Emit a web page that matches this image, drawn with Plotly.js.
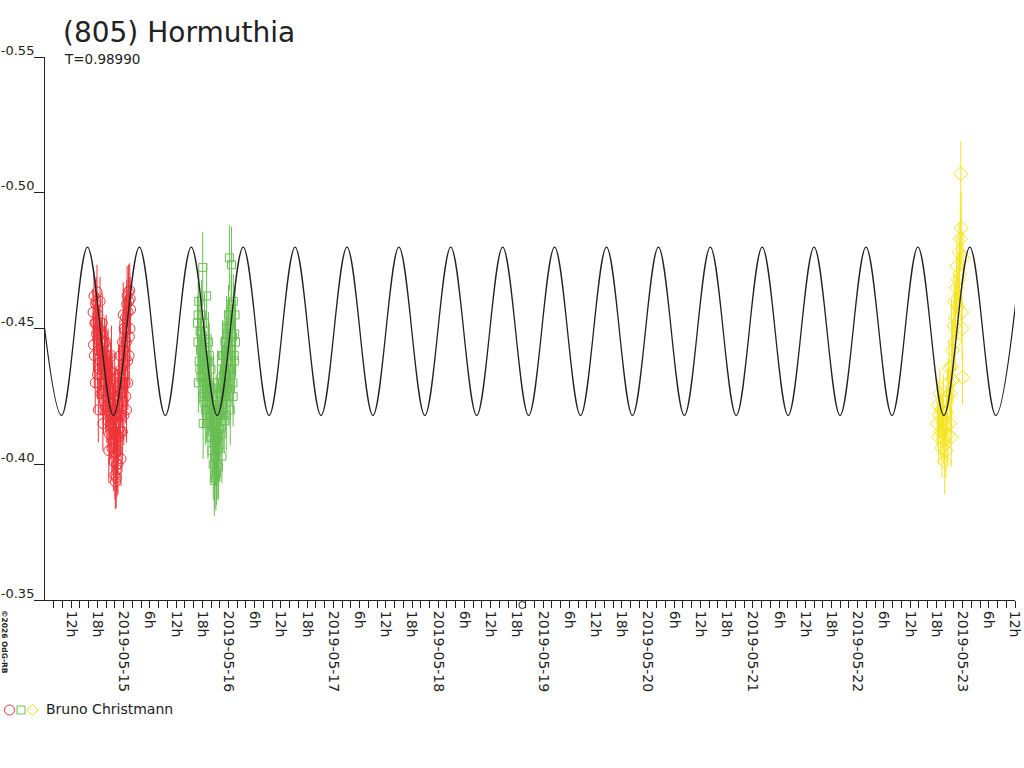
<!DOCTYPE html>
<html><head><meta charset="utf-8">
<script src="https://cdn.plot.ly/plotly-3.0.1.min.js"></script>
<style>html,body{margin:0;padding:0;background:#fff}#chart{width:1024px;height:768px}</style>
</head><body><div id="chart"></div>
<script>
// Times are hours after 2019-05-14 00:00 UT
const titleText = '(805) Hormuthia';
const subtitleText = 'T=0.98990';
const observerName = 'Bruno Christmann';
const creditText = '\u00a92026 OdG-RB';

const yTickVals = [-0.55, -0.50, -0.45, -0.40, -0.35];
const yTickText = ['-0.55', '-0.50', '-0.45', '-0.40', '-0.35'];
const xRangeHours = [6, 228];
const epochMarkHours = 115.25;

// model curve extrema (hours, mag)
const curveHours = [3.839, 9.778, 15.717, 21.657, 27.596, 33.536, 39.475, 45.414, 51.354, 57.293, 63.232,
  69.172, 75.111, 81.051, 86.990, 92.930, 98.869, 104.808, 110.748, 116.687, 122.626, 128.566, 134.505,
  140.445, 146.384, 152.324, 158.263, 164.202, 170.142, 176.081, 182.020, 187.960, 193.899, 199.839,
  205.778, 211.718, 217.657, 223.596, 229.536];
const curveMags = [-0.480, -0.418, -0.480, -0.418, -0.480, -0.418, -0.480, -0.418, -0.480, -0.418, -0.480,
  -0.418, -0.480, -0.418, -0.480, -0.418, -0.480, -0.418, -0.480, -0.418, -0.480, -0.418, -0.480,
  -0.418, -0.480, -0.418, -0.480, -0.418, -0.480, -0.418, -0.480, -0.418, -0.480, -0.418,
  -0.480, -0.418, -0.480, -0.418, -0.480];

// session 1 (red circles)
const redHours = [17.0,17.2,17.4,17.6,17.8,17.9,18.0,18.1,18.3,18.4,18.6,18.7,18.8,18.9,19.0,19.2,19.3,19.4,19.5,19.6,19.8,19.9,
  20.1,20.2,20.4,20.5,20.7,20.8,21.0,21.1,21.3,21.4,21.6,21.7,21.9,22.0,22.1,22.2,22.3,22.4,22.6,22.7,22.9,
  23.0,23.2,23.3,23.5,23.6,23.8,23.9,24.0,24.2,24.3,24.4,24.6,24.7,24.8,25.0,25.1,25.2,25.4,25.5,25.6,
  17.1,17.5,17.7,18.2,18.5,19.1,19.7,20.0,20.3,20.6,20.9,21.2,21.5,21.8,22.05,22.25,22.5,22.8,23.1,23.4,23.7,24.1,24.5,24.9,25.3,19.25,21.0,23.9,
  17.3,17.65,18.05,18.45,18.85,19.15,19.55,19.85,20.15,20.45,20.75,21.05,21.35,21.65,21.95,22.15,22.35,22.55,22.85,23.15,23.45,23.75,24.05,24.35,24.65,24.95,25.25,25.45];
const redMags = [-0.4560,-0.4620,-0.4520,-0.4590,-0.4480,-0.4635,-0.4330,-0.4550,-0.4420,-0.4500,-0.4600,-0.4380,-0.4260,-0.4460,
  -0.4330,-0.4410,-0.4270,-0.4200,-0.4360,-0.4450,-0.4300,-0.4210,-0.4330,-0.4250,-0.4160,-0.4280,-0.4190,-0.4110,
  -0.4230,-0.4140,-0.4060,-0.4170,-0.4090,-0.4010,-0.4120,-0.3960,-0.3935,-0.4040,-0.3950,-0.4000,-0.4050,-0.4000,-0.4100,
  -0.4130,-0.4180,-0.4120,-0.4260,-0.4300,-0.4230,-0.4370,-0.4420,-0.4330,-0.4490,-0.4540,-0.4450,-0.4590,-0.4620,
  -0.4560,-0.4635,-0.4600,-0.4640,-0.4610,-0.4570,
  -0.4440,-0.4300,-0.4600,-0.4200,-0.4480,-0.4520,-0.4380,-0.4450,-0.4360,-0.4050,-0.4320,-0.4400,-0.4260,-0.4180,
  -0.4250,-0.4120,-0.3980,-0.4220,-0.4320,-0.4020,-0.4120,-0.4500,-0.4250,-0.4380,-0.4470,-0.4150,-0.4340,-0.4550,
  -0.4400,-0.4520,-0.4460,-0.4350,-0.4410,-0.4480,-0.4300,-0.4380,-0.4200,-0.4400,-0.4300,-0.4150,-0.4280,-0.4200,
  -0.4300,-0.4180,-0.4100,-0.4250,-0.4330,-0.4400,-0.4350,-0.4450,-0.4180,-0.4300,-0.4200,-0.4300,-0.4400,-0.4500];
const redErrs = [0.008,0.009,0.007,0.009,0.008,0.010,0.009,0.008,0.009,0.007,
  0.009,0.011,0.008,0.008,0.009,0.008,0.010,0.009,0.008,0.009,
  0.011,0.009,0.008,0.009,0.010,0.009,0.008,0.011,0.008,0.009,
  0.010,0.008,0.009,0.011,0.008,0.009,0.010,0.009,0.011,0.010,
  0.009,0.011,0.008,0.010,0.009,0.008,0.011,0.009,0.008,0.010,
  0.008,0.009,0.011,0.008,0.010,0.009,0.011,0.008,0.010,0.009,
  0.010,0.008,0.009,
  0.010,0.011,0.009,0.012,0.010,0.011,0.012,0.010,0.011,0.012,0.010,0.011,0.012,0.010,
  0.011,0.012,0.010,0.011,0.012,0.010,0.011,0.012,0.010,0.011,0.012,0.010,0.011,0.012,
  0.012,0.010,0.011,0.013,0.012,0.010,0.011,0.013,0.012,0.010,0.011,0.013,0.012,0.010,
  0.011,0.013,0.012,0.010,0.011,0.013,0.012,0.010,0.011,0.013,0.012,0.010,0.011,0.012];

// session 2 (green squares)
const greenHours = [40.9,41.0,41.2,41.3,41.5,41.7,41.8,42.0,42.1,42.3,42.4,42.6,42.7,42.9,43.0,43.2,43.3,43.5,43.6,43.8,43.9,
  44.1,44.2,44.4,44.5,44.7,44.8,45.0,45.1,45.3,45.4,45.6,45.7,45.9,46.0,46.2,46.3,46.5,46.7,46.8,
  47.0,47.1,47.3,47.4,47.6,47.7,47.9,48.0,48.2,48.3,48.4,48.6,48.7,48.9,49.1,49.3,49.5,
  41.1,41.6,42.2,42.5,42.8,43.1,43.4,43.7,44.0,44.3,44.6,44.9,45.2,45.5,45.8,46.1,46.4,46.6,46.9,47.2,47.5,47.8,48.1,48.5,49.0,49.4,44.75,45.25,
  41.05,41.45,41.75,42.05,42.35,42.65,43.05,43.35,43.65,43.95,44.25,44.55,44.85,45.15,45.45,45.75,46.05,46.35,46.65,46.95,47.25,47.55,47.85,48.15,48.45,48.75,49.05,49.35,49.6];
const greenMags = [-0.4520,-0.4450,-0.4600,-0.4380,-0.4490,-0.4320,-0.4550,
  -0.4410,-0.4725,-0.4350,-0.4260,-0.4460,-0.4200,-0.4380,
  -0.4620,-0.4300,-0.4150,-0.4250,-0.4400,-0.4180,-0.4100,
  -0.4220,-0.4050,-0.4140,-0.4000,-0.4080,-0.3960,
  -0.4030,-0.3950,-0.4100,-0.4000,-0.4060,-0.3990,-0.4130,
  -0.4070,-0.4180,-0.4110,-0.4030,-0.4220,-0.4280,
  -0.4160,-0.4350,-0.4250,-0.4420,-0.4320,-0.4480,-0.4380,
  -0.4550,-0.4760,-0.4510,-0.4200,-0.4590,-0.4735,-0.4470,
  -0.4600,-0.4400,-0.4550,
  -0.4300,-0.4420,-0.4150,-0.4520,-0.4350,-0.4250,-0.4450,-0.4300,-0.4350,-0.4200,-0.4280,-0.4150,-0.4220,-0.4300,
  -0.4180,-0.4260,-0.4350,-0.4400,-0.4330,-0.4450,-0.4180,-0.4280,-0.4350,-0.4400,-0.4300,-0.4480,-0.3940,-0.3970,
  -0.4550,-0.4350,-0.4480,-0.4250,-0.4400,-0.4300,-0.4200,-0.4380,-0.4230,-0.4280,-0.4120,-0.4180,-0.4090,-0.4150,
  -0.4050,-0.4100,-0.4200,-0.4250,-0.4300,-0.4400,-0.4330,-0.4500,-0.4400,-0.4250,-0.4450,-0.4350,-0.4250,-0.4380,-0.4450];
const greenErrs = [0.010,0.012,0.011,0.009,0.012,0.011,0.013,
  0.010,0.013,0.011,0.012,0.010,0.013,0.011,
  0.012,0.010,0.013,0.011,0.012,0.010,0.013,
  0.011,0.012,0.010,0.013,0.011,0.012,
  0.011,0.012,0.010,0.013,0.011,0.012,0.010,
  0.013,0.011,0.012,0.010,0.013,0.011,
  0.012,0.010,0.013,0.011,0.012,0.010,0.013,
  0.011,0.012,0.010,0.013,0.011,0.014,0.012,
  0.010,0.013,0.011,
  0.011,0.012,0.013,0.011,0.012,0.013,0.011,0.012,0.013,0.011,0.012,0.013,0.011,0.012,
  0.013,0.011,0.012,0.013,0.011,0.012,0.013,0.011,0.012,0.013,0.011,0.012,0.013,0.012,
  0.012,0.013,0.011,0.012,0.013,0.011,0.012,0.013,0.011,0.012,0.013,0.011,0.012,0.013,
  0.011,0.012,0.013,0.011,0.012,0.013,0.011,0.012,0.013,0.011,0.012,0.013,0.011,0.012,0.013];

// session 3 (yellow diamonds)
const yellowHours = [210.2,210.4,210.5,210.7,210.8,211.0,211.1,211.3,211.4,211.6,211.7,211.9,
  212.0,212.2,212.3,212.5,212.6,212.8,212.9,213.1,213.2,213.4,213.5,213.7,213.8,
  214.0,214.1,214.3,214.4,214.6,214.7,214.9,215.0,215.2,215.3,215.5,215.6,215.7,215.8,215.9,216.0,216.1];
const yellowMags = [-0.4150,-0.4220,-0.4100,-0.4180,-0.4260,
  -0.4120,-0.4200,-0.4060,-0.4160,-0.4230,-0.4090,-0.4010,
  -0.4140,-0.4050,-0.4190,-0.4250,-0.4110,-0.4300,-0.4355,
  -0.4150,-0.4260,-0.4100,-0.4360,-0.4420,-0.4310,
  -0.4510,-0.4600,-0.4450,-0.4540,-0.4650,-0.4730,-0.4580,
  -0.4680,-0.4780,-0.4700,-0.4830,-0.5070,-0.4870,-0.4560,-0.4500,
  -0.4320,-0.4760];
const yellowErrs = [0.008,0.009,0.010,0.008,0.009,
  0.010,0.008,0.011,0.009,0.010,0.009,0.012,
  0.008,0.010,0.009,0.010,0.011,0.009,0.010,
  0.009,0.010,0.011,0.025,0.011,0.009,
  0.012,0.010,0.011,0.012,0.010,0.011,0.012,
  0.010,0.011,0.013,0.012,0.012,0.013,0.011,0.012,
  0.010,0.010];

const colors = {red: '#ee3338', green: '#68be52', yellow: '#f4e41c', ink: '#222222'};
const FONT = 'DejaVu Sans, Verdana, sans-serif';

const baseDate = Date.UTC(2019, 4, 14, 0, 0, 0);
function hoursToDate(h) {
  const d = new Date(baseDate + Math.round(h * 3600000));
  return d.toISOString().slice(0, 19).replace('T', ' ');
}

// axis ticks every 2h, labelled every 6h
const xTickVals = [], xTickText = [];
for (let h = 8; h <= 228; h += 2) {
  xTickVals.push(hoursToDate(h));
  if (h % 6 === 0) {
    const hh = h % 24;
    xTickText.push(hh === 0 ? hoursToDate(h).slice(0, 10) : hh + 'h');
  } else {
    xTickText.push('');
  }
}

function session(hours, mags, errs, color, symbol, size) {
  return {
    type: 'scatter', mode: 'markers',
    x: hours.map(hoursToDate), y: mags,
    marker: {symbol: symbol, size: size, color: color, line: {color: color, width: 1}},
    error_y: {type: 'data', array: errs, visible: true, color: color, thickness: 1, width: 0},
    showlegend: false, hoverinfo: 'skip'
  };
}

const traces = [
  session(redHours, redMags, redErrs, colors.red, 'circle-open', 10),
  session(greenHours, greenMags, greenErrs, colors.green, 'square-open', 8),
  session(yellowHours, yellowMags, yellowErrs, colors.yellow, 'diamond-open', 11),
  {
    type: 'scatter', mode: 'lines',
    x: curveHours.map(hoursToDate), y: curveMags,
    line: {color: colors.ink, width: 1.3, shape: 'spline', smoothing: 1},
    showlegend: false, hoverinfo: 'skip'
  }
];

const W = 970, H = 543; // plot area px
function px2paperX(px) { return (px - 45) / W; }
function px2paperY(py) { return (600 - py) / H; }

const layout = {
  width: 1024, height: 768,
  paper_bgcolor: '#ffffff', plot_bgcolor: '#ffffff',
  margin: {l: 45, r: 9, t: 57, b: 168, autoexpand: false},
  showlegend: false,
  font: {family: FONT, size: 14, color: colors.ink},
  title: {
    text: titleText,
    font: {family: FONT, size: 28, color: colors.ink},
    xref: 'container', yref: 'container',
    x: 63 / 1024, xanchor: 'left',
    y: 1 - 22 / 768, yanchor: 'top'
  },
  xaxis: {
    type: 'date',
    range: [hoursToDate(xRangeHours[0]), hoursToDate(xRangeHours[1])],
    tickmode: 'array', tickvals: xTickVals, ticktext: xTickText,
    tickangle: 90,
    ticks: 'outside', ticklen: 7, tickwidth: 1, tickcolor: colors.ink,
    showline: true, linecolor: colors.ink, linewidth: 1,
    showgrid: false, zeroline: false,
    tickfont: {family: FONT, size: 14, color: colors.ink}
  },
  yaxis: {
    range: [-0.35, -0.55],
    tickmode: 'array', tickvals: yTickVals, ticktext: yTickText,
    ticks: 'outside', ticklen: 10, tickwidth: 1, tickcolor: colors.ink,
    showline: true, linecolor: colors.ink, linewidth: 1,
    showgrid: false, zeroline: false,
    ticklabelshift: 7, ticklabelstandoff: -3,
    tickfont: {family: FONT, size: 13, color: colors.ink}
  },
  annotations: [
    {text: subtitleText, xref: 'paper', yref: 'paper', x: px2paperX(62), y: px2paperY(59),
     xanchor: 'left', yanchor: 'middle', showarrow: false, font: {family: FONT, size: 13.5, color: colors.ink}},
    {text: observerName, xref: 'paper', yref: 'paper', x: px2paperX(44), y: px2paperY(709),
     xanchor: 'left', yanchor: 'middle', showarrow: false, font: {family: FONT, size: 14, color: colors.ink}},
    {text: creditText, xref: 'paper', yref: 'paper', x: px2paperX(5), y: px2paperY(642),
     xanchor: 'center', yanchor: 'middle', textangle: 90, showarrow: false,
     font: {family: 'DejaVu Sans', size: 7.5, color: colors.ink, weight: 'bold'}}
  ],
  shapes: [
    {type: 'circle', xref: 'paper', yref: 'paper', xsizemode: 'pixel', ysizemode: 'pixel',
     xanchor: px2paperX(9.5), yanchor: px2paperY(710), x0: -5, x1: 5, y0: -5, y1: 5,
     line: {color: colors.red, width: 1}},
    {type: 'rect', xref: 'paper', yref: 'paper', xsizemode: 'pixel', ysizemode: 'pixel',
     xanchor: px2paperX(21), yanchor: px2paperY(710), x0: -4, x1: 4, y0: -4, y1: 4,
     line: {color: colors.green, width: 1}},
    {type: 'path', xref: 'paper', yref: 'paper', xsizemode: 'pixel', ysizemode: 'pixel',
     xanchor: px2paperX(32.5), yanchor: px2paperY(710), path: 'M0,-5.5 L5.5,0 L0,5.5 L-5.5,0 Z',
     line: {color: colors.yellow, width: 1}},
    {type: 'circle', xref: 'x', yref: 'paper', xsizemode: 'pixel', ysizemode: 'pixel',
     xanchor: hoursToDate(epochMarkHours), yanchor: px2paperY(605), x0: -3.5, x1: 3.5, y0: -3.5, y1: 3.5,
     line: {color: colors.ink, width: 1}}
  ]
};

Plotly.newPlot('chart', traces, layout, {staticPlot: true, displayModeBar: false});
</script>
</body></html>
